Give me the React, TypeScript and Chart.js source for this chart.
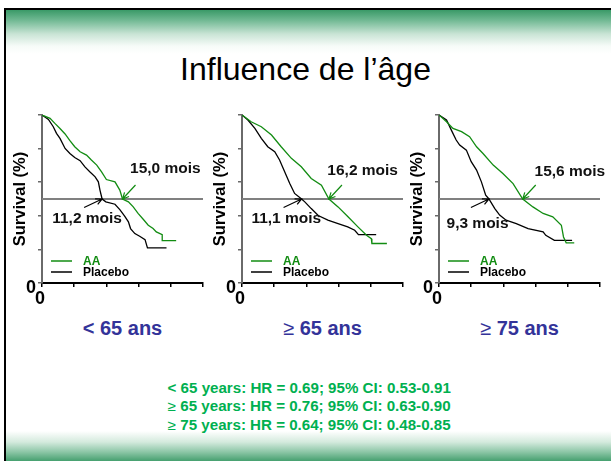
import React, { useEffect, useRef } from 'react';
import { Chart, registerables } from 'chart.js';

Chart.register(...registerables);

const FONT = '"Liberation Sans", Arial, sans-serif';

// ---------- data ----------
const slideTitle = 'Influence de l’âge';
const ageGroups = ['< 65 ans', '≥ 65 ans', '≥ 75 ans'];
const seriesNames = ['AA', 'Placebo'];
const yAxisTitle = 'Survival (%)';
const xTickZero = '0';
const yTickZero = '0';
const medianSurvival = 50;
const xMax = 30;
const xStep = 6;
const yStep = 20;

const medianAA = [15.0, 16.2, 15.6];
const medianPlacebo = [11.2, 11.1, 9.3];
const medianLabelsAA = ['15,0 mois', '16,2 mois', '15,6 mois'];
const medianLabelsPlacebo = ['11,2 mois', '11,1 mois', '9,3 mois'];

// < 65 ans
const aaLt65Months = [0, 1.5, 2.4, 3.35, 4.3, 5.2, 6.1, 7.1, 8.3, 9.2, 10.2, 11.1, 12.0, 13.6, 14.5, 15.0, 16.1, 17.0, 17.9, 18.9, 19.8, 20.7, 21.3, 22.4, 22.4, 25.0];
const aaLt65Survival = [100, 98, 95, 92, 88.7, 84.7, 81.1, 78.1, 76.1, 73.2, 70.2, 66.2, 61.6, 60.2, 55.3, 50, 48.3, 45.3, 41.4, 37.8, 34.4, 32.4, 30.4, 28.8, 25.2, 25.2];
const plLt65Months = [0, 1.2, 2.1, 2.7, 3.35, 4.3, 5.2, 6.1, 7.1, 8.0, 8.9, 9.9, 10.5, 10.8, 11.2, 11.9, 13.6, 14.5, 15.4, 16.1, 16.5, 17.3, 18.2, 19.2, 19.65, 23.2];
const plLt65Survival = [100, 97.4, 93, 89.1, 86.1, 80.1, 77.1, 74.7, 72.8, 69.1, 66.2, 63.2, 60.2, 55.3, 50, 48.3, 46.9, 43.7, 39.8, 36.4, 32.4, 29.4, 27.8, 25.8, 20.9, 20.9];

// >= 65 ans
const aaGe65Months = [0, 1.7, 3.6, 5.5, 7.3, 9.2, 11.05, 12.9, 14.8, 16.2, 17.9, 19.75, 21.6, 23.2, 24.1, 24.2, 27.0];
const aaGe65Survival = [100, 96, 93, 88.1, 81.1, 74.2, 69.2, 62.2, 58.2, 50, 45.3, 39.4, 33.4, 28.4, 26.4, 23.5, 23.5];
const plGe65Months = [0, 1.1, 2.4, 3.6, 4.8, 6.1, 7.0, 7.95, 8.9, 9.8, 11.1, 11.7, 12.9, 14.2, 16.0, 17.9, 19.7, 21.0, 21.7, 25.0];
const plGe65Survival = [100, 97, 92, 86.1, 81.1, 78.1, 73.2, 66.2, 59.2, 53.3, 50, 48.3, 44.3, 40.2, 37.4, 35.4, 33.4, 31.4, 28.8, 28.8];

// >= 75 ans
const aaGe75Months = [0, 1.4, 2.6, 4.2, 5.7, 7.0, 8.2, 10.1, 11.9, 13.8, 15.6, 17.5, 19.4, 21.2, 22.8, 23.2, 23.7, 25.2];
const aaGe75Survival = [100, 96, 92, 90.1, 87.1, 81.1, 77.1, 70.2, 65.2, 59.2, 50, 45.3, 41.4, 39.4, 34.4, 27.4, 23.9, 23.9];
const plGe75Months = [0, 1.4, 2.3, 3.2, 3.85, 5.1, 6.0, 7.0, 7.9, 8.7, 9.3, 10.4, 11.3, 12.5, 14.4, 16.6, 19.4, 19.9, 21.5, 24.8];
const plGe75Survival = [100, 97, 91, 85.1, 82.1, 79.1, 72.2, 67.2, 60.2, 52.3, 50, 44.3, 40.4, 37.4, 35.4, 32.4, 30.4, 28.4, 25.4, 25.4];

const aaMonths = [aaLt65Months, aaGe65Months, aaGe75Months];
const aaSurvival = [aaLt65Survival, aaGe65Survival, aaGe75Survival];
const plMonths = [plLt65Months, plGe65Months, plGe75Months];
const plSurvival = [plLt65Survival, plGe65Survival, plGe75Survival];

const hrSymbols = ['<', '≥', '≥'];
const hrTexts = [
  ' 65 years: HR = 0.69; 95% CI: 0.53-0.91',
  ' 65 years: HR = 0.76; 95% CI: 0.63-0.90',
  ' 75 years: HR = 0.64; 95% CI: 0.48-0.85',
];

// ---------- layout / style (not data) ----------
const AA_COLOR = '#128c12';
const PL_COLOR = '#000000';
const MEDIAN_COLOR = '#808080';
const PANEL_AXIS_X = [42, 242, 439];
const PLOT_W = 161;
const PLOT_H = 168;
const CANVAS_TOP = 100;
const PAD_TOP = 15;
const Y_BOX_W = 42;
const X_BOX_H = 30;
const CANVAS_W = 214;
const CANVAS_H = PAD_TOP + PLOT_H + X_BOX_H;
// label anchor positions (in data units: month, survival) for each panel
const labelPosAA = [[16.4, 67.8], [15.9, 66.6], [17.8, 66]];
const labelPosPl = [[1.9, 38.1], [1.75, 38.1], [1.4, 35.1]];

function toXY(xs: number[], ys: number[]) {
  return xs.map((x, k) => ({ x, y: ys[k] }));
}

function drawArrow(ctx: CanvasRenderingContext2D, x0: number, y0: number, x1: number, y1: number, color: string) {
  const ang = Math.atan2(y1 - y0, x1 - x0);
  const h = 7;
  ctx.strokeStyle = color;
  ctx.lineWidth = 1.2;
  ctx.beginPath();
  ctx.moveTo(x0, y0);
  ctx.lineTo(x1, y1);
  ctx.moveTo(x1 - h * Math.cos(ang - 0.45), y1 - h * Math.sin(ang - 0.45));
  ctx.lineTo(x1, y1);
  ctx.lineTo(x1 - h * Math.cos(ang + 0.45), y1 - h * Math.sin(ang + 0.45));
  ctx.stroke();
}

function annotPlugin(i: number) {
  return {
    id: 'annot' + i,
    afterDatasetsDraw(chart: any) {
      const ctx: CanvasRenderingContext2D = chart.ctx;
      const xs = chart.scales.x;
      const ys = chart.scales.y;
      const area = chart.chartArea;
      ctx.save();
      const yMed = ys.getPixelForValue(medianSurvival);
      const xa = xs.getPixelForValue(medianAA[i]);
      const xp = xs.getPixelForValue(medianPlacebo[i]);
      drawArrow(ctx, xa + 13, yMed - 14, xa, yMed, AA_COLOR);
      drawArrow(ctx, xp - 18, yMed + 8.5, xp, yMed, PL_COLOR);

      ctx.font = `bold 15.5px ${FONT}`;
      ctx.textAlign = 'left';
      ctx.textBaseline = 'middle';
      ctx.fillStyle = '#111111';
      ctx.fillText(medianLabelsAA[i], xs.getPixelForValue(labelPosAA[i][0]), ys.getPixelForValue(labelPosAA[i][1]));
      ctx.fillText(medianLabelsPlacebo[i], xs.getPixelForValue(labelPosPl[i][0]), ys.getPixelForValue(labelPosPl[i][1]));

      // legend
      const lx = area.left;
      const colors = [AA_COLOR, PL_COLOR];
      const yy = [area.bottom - 22, area.bottom - 11];
      ctx.font = `bold 12px ${FONT}`;
      seriesNames.forEach((name, k) => {
        ctx.strokeStyle = colors[k];
        ctx.lineWidth = 1.5;
        ctx.beginPath();
        ctx.moveTo(lx + 9, yy[k]);
        ctx.lineTo(lx + 30, yy[k]);
        ctx.stroke();
        ctx.fillStyle = colors[k];
        ctx.fillText(name, lx + 41, yy[k] + 0.5);
      });
      ctx.restore();
    },
  };
}

function Panel({ index }: { index: number }) {
  const ref = useRef<HTMLCanvasElement>(null);
  useEffect(() => {
    if (!ref.current) return;
    const chart = new Chart(ref.current, {
      type: 'line',
      data: {
        datasets: [
          {
            label: seriesNames[0],
            data: toXY(aaMonths[index], aaSurvival[index]),
            borderColor: AA_COLOR,
            borderWidth: 1.3,
            pointRadius: 0,
            tension: 0,
          },
          {
            label: seriesNames[1],
            data: toXY(plMonths[index], plSurvival[index]),
            borderColor: PL_COLOR,
            borderWidth: 1.3,
            pointRadius: 0,
            tension: 0,
          },
          {
            label: 'median',
            data: [{ x: 0, y: medianSurvival }, { x: xMax, y: medianSurvival }],
            borderColor: MEDIAN_COLOR,
            borderWidth: 2,
            pointRadius: 0,
          },
        ],
      },
      options: {
        responsive: false,
        animation: false,
        devicePixelRatio: 1,
        events: [],
        layout: { padding: { top: PAD_TOP, right: CANVAS_W - Y_BOX_W - PLOT_W, left: 0, bottom: 0 } },
        plugins: { legend: { display: false }, tooltip: { enabled: false } },
        scales: {
          x: {
            type: 'linear',
            min: 0,
            max: xMax,
            afterFit: (s: any) => { s.height = X_BOX_H; },
            ticks: {
              stepSize: xStep,
              autoSkip: false,
              maxRotation: 0,
              callback: (v: any) => (v === 0 ? xTickZero : ''),
              font: { family: FONT, size: 18, weight: 'bold' },
              color: '#000',
              padding: 1,
              labelOffset: -2,
            },
            grid: { drawOnChartArea: false, drawTicks: true, tickLength: 4, color: '#000', lineWidth: 1.5 },
            border: { display: true, color: '#000', width: 2 },
          },
          y: {
            min: 0,
            max: 100,
            afterFit: (s: any) => { s.width = Y_BOX_W; },
            ticks: {
              stepSize: yStep,
              autoSkip: false,
              callback: (v: any) => (v === 0 ? yTickZero : ''),
              font: { family: FONT, size: 18, weight: 'bold' },
              color: '#000',
              padding: 2,
              labelOffset: 5,
            },
            title: {
              display: true,
              text: yAxisTitle,
              color: '#000',
              font: { family: FONT, size: 16.5, weight: 'bold' },
              padding: { top: 11, bottom: 0 },
            },
            grid: { drawOnChartArea: false, drawTicks: true, tickLength: 4, color: '#6a6a6a', lineWidth: 1.5 },
            border: { display: true, color: '#6a6a6a', width: 2 },
          },
        },
      } as any,
      plugins: [annotPlugin(index)],
    });
    return () => chart.destroy();
  }, [index]);
  return (
    <canvas
      ref={ref}
      width={CANVAS_W}
      height={CANVAS_H}
      style={{ position: 'absolute', left: PANEL_AXIS_X[index] - Y_BOX_W, top: CANVAS_TOP, width: CANVAS_W, height: CANVAS_H }}
    />
  );
}

function GroupLabel({ index }: { index: number }) {
  const text = ageGroups[index];
  const sym = text.charAt(0);
  const rest = text.slice(1);
  const cx = PANEL_AXIS_X[index] + PLOT_W / 2;
  return (
    <div
      style={{
        position: 'absolute', left: cx - 100, width: 200, top: 318, textAlign: 'center',
        font: `bold 20px/20px ${FONT}`, color: '#333399', whiteSpace: 'pre',
      }}
    >
      <span style={{ fontWeight: sym === '≥' ? 'normal' : 'bold' }}>{sym}</span>{rest}
    </div>
  );
}

export default function App() {
  return (
    <div style={{ position: 'fixed', left: 0, top: 0, width: 611, height: 461, overflow: 'hidden', background: '#ffffff', fontFamily: FONT }}>
      <div
        style={{
          position: 'absolute', left: 4, top: 8, width: 640, height: 470,
          borderLeft: '2px solid #000', borderTop: '2px solid #000',
          background: 'linear-gradient(to bottom, #3a9a68 0px, #6fb892 10px, #c9e4d5 24px, #f6fbf8 36px, #ffffff 44px, #ffffff 421px, #d4eadd 432px, #8cc6a6 442px, #3f9c6a 452px)',
        }}
      />
      <div style={{ position: 'absolute', left: 0, width: 611, top: 53, textAlign: 'center', font: `32px/32px ${FONT}`, color: '#000' }}>
        {slideTitle}
      </div>
      {[0, 1, 2].map((i) => <Panel key={i} index={i} />)}
      {[0, 1, 2].map((i) => <GroupLabel key={'g' + i} index={i} />)}
      <div style={{ position: 'absolute', left: 10, width: 600, top: 379, textAlign: 'center', font: `bold 14px/18.3px ${FONT}`, color: '#00b050', whiteSpace: 'pre', transform: 'scaleX(1.08)', transformOrigin: '310px 0' }}>
        {hrTexts.map((t, k) => (
          <div key={k}>
            <span style={{ fontWeight: hrSymbols[k] === '≥' ? 'normal' : 'bold' }}>{hrSymbols[k]}</span>{t}
          </div>
        ))}
      </div>
    </div>
  );
}
